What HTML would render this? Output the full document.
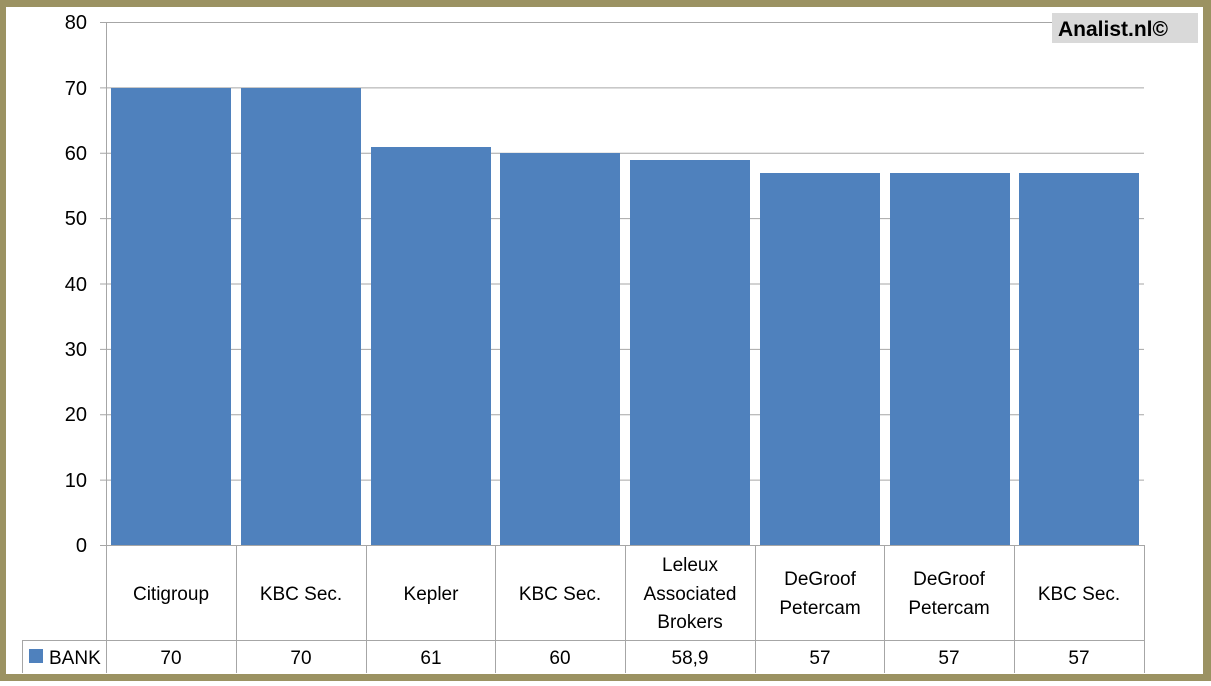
<!DOCTYPE html>
<html><head><style>
html,body{margin:0;padding:0;background:#fff}
svg text{font-family:"Liberation Sans",sans-serif;fill:#000}
</style></head><body>
<svg width="1211" height="681" xmlns="http://www.w3.org/2000/svg">
<rect x="0" y="0" width="1211" height="681" fill="#9b9262"/>
<rect x="6" y="7" width="1197" height="667" fill="#fff"/>
<g stroke="#a6a6a6" stroke-width="1">
<line x1="100" y1="22.5" x2="1144" y2="22.5"/>
<line x1="100" y1="87.9" x2="1144" y2="87.9"/>
<line x1="100" y1="153.3" x2="1144" y2="153.3"/>
<line x1="100" y1="218.6" x2="1144" y2="218.6"/>
<line x1="100" y1="284" x2="1144" y2="284"/>
<line x1="100" y1="349.4" x2="1144" y2="349.4"/>
<line x1="100" y1="414.8" x2="1144" y2="414.8"/>
<line x1="100" y1="480.1" x2="1144" y2="480.1"/>
<line x1="100" y1="545.5" x2="1144" y2="545.5"/>
<line x1="106.5" y1="22" x2="106.5" y2="673"/>
<line x1="236.5" y1="545" x2="236.5" y2="673"/>
<line x1="366.5" y1="545" x2="366.5" y2="673"/>
<line x1="495.5" y1="545" x2="495.5" y2="673"/>
<line x1="625.5" y1="545" x2="625.5" y2="673"/>
<line x1="755.5" y1="545" x2="755.5" y2="673"/>
<line x1="884.5" y1="545" x2="884.5" y2="673"/>
<line x1="1014.5" y1="545" x2="1014.5" y2="673"/>
<line x1="1144.5" y1="545" x2="1144.5" y2="673"/>
<line x1="22" y1="640.5" x2="1144" y2="640.5"/>
<line x1="22.5" y1="640" x2="22.5" y2="673"/>
</g>
<g fill="#4f81bd">
<rect x="111" y="88" width="120" height="457"/>
<rect x="241" y="88" width="120" height="457"/>
<rect x="371" y="147" width="120" height="398"/>
<rect x="500" y="153" width="120" height="392"/>
<rect x="630" y="160" width="120" height="385"/>
<rect x="760" y="173" width="120" height="372"/>
<rect x="890" y="173" width="120" height="372"/>
<rect x="1019" y="173" width="120" height="372"/>
<rect x="29" y="649" width="14" height="14"/>
</g>
<g font-size="20" text-anchor="end">
<text x="87" y="29">80</text><text x="87" y="95">70</text><text x="87" y="160">60</text>
<text x="87" y="225">50</text><text x="87" y="291">40</text><text x="87" y="356">30</text>
<text x="87" y="421">20</text><text x="87" y="487">10</text><text x="87" y="552">0</text>
</g>
<g font-size="19" text-anchor="middle">
<text x="171" y="600">Citigroup</text>
<text x="301" y="600">KBC Sec.</text>
<text x="431" y="600">Kepler</text>
<text x="560" y="600">KBC Sec.</text>
<text x="690" y="571">Leleux</text>
<text x="690" y="600">Associated</text>
<text x="690" y="628">Brokers</text>
<text x="820" y="585">DeGroof</text>
<text x="820" y="614">Petercam</text>
<text x="949" y="585">DeGroof</text>
<text x="949" y="614">Petercam</text>
<text x="1079" y="600">KBC Sec.</text>
<text x="171" y="664">70</text><text x="301" y="664">70</text><text x="431" y="664">61</text>
<text x="560" y="664">60</text><text x="690" y="664">58,9</text><text x="820" y="664">57</text>
<text x="949" y="664">57</text><text x="1079" y="664">57</text>
</g>
<text x="49" y="664" font-size="19">BANK</text>
<rect x="1052" y="13" width="146" height="30" fill="#d9d9d9"/>
<text x="1058" y="36" font-size="21" font-weight="bold">Analist.nl©</text>
</svg>
</body></html>
